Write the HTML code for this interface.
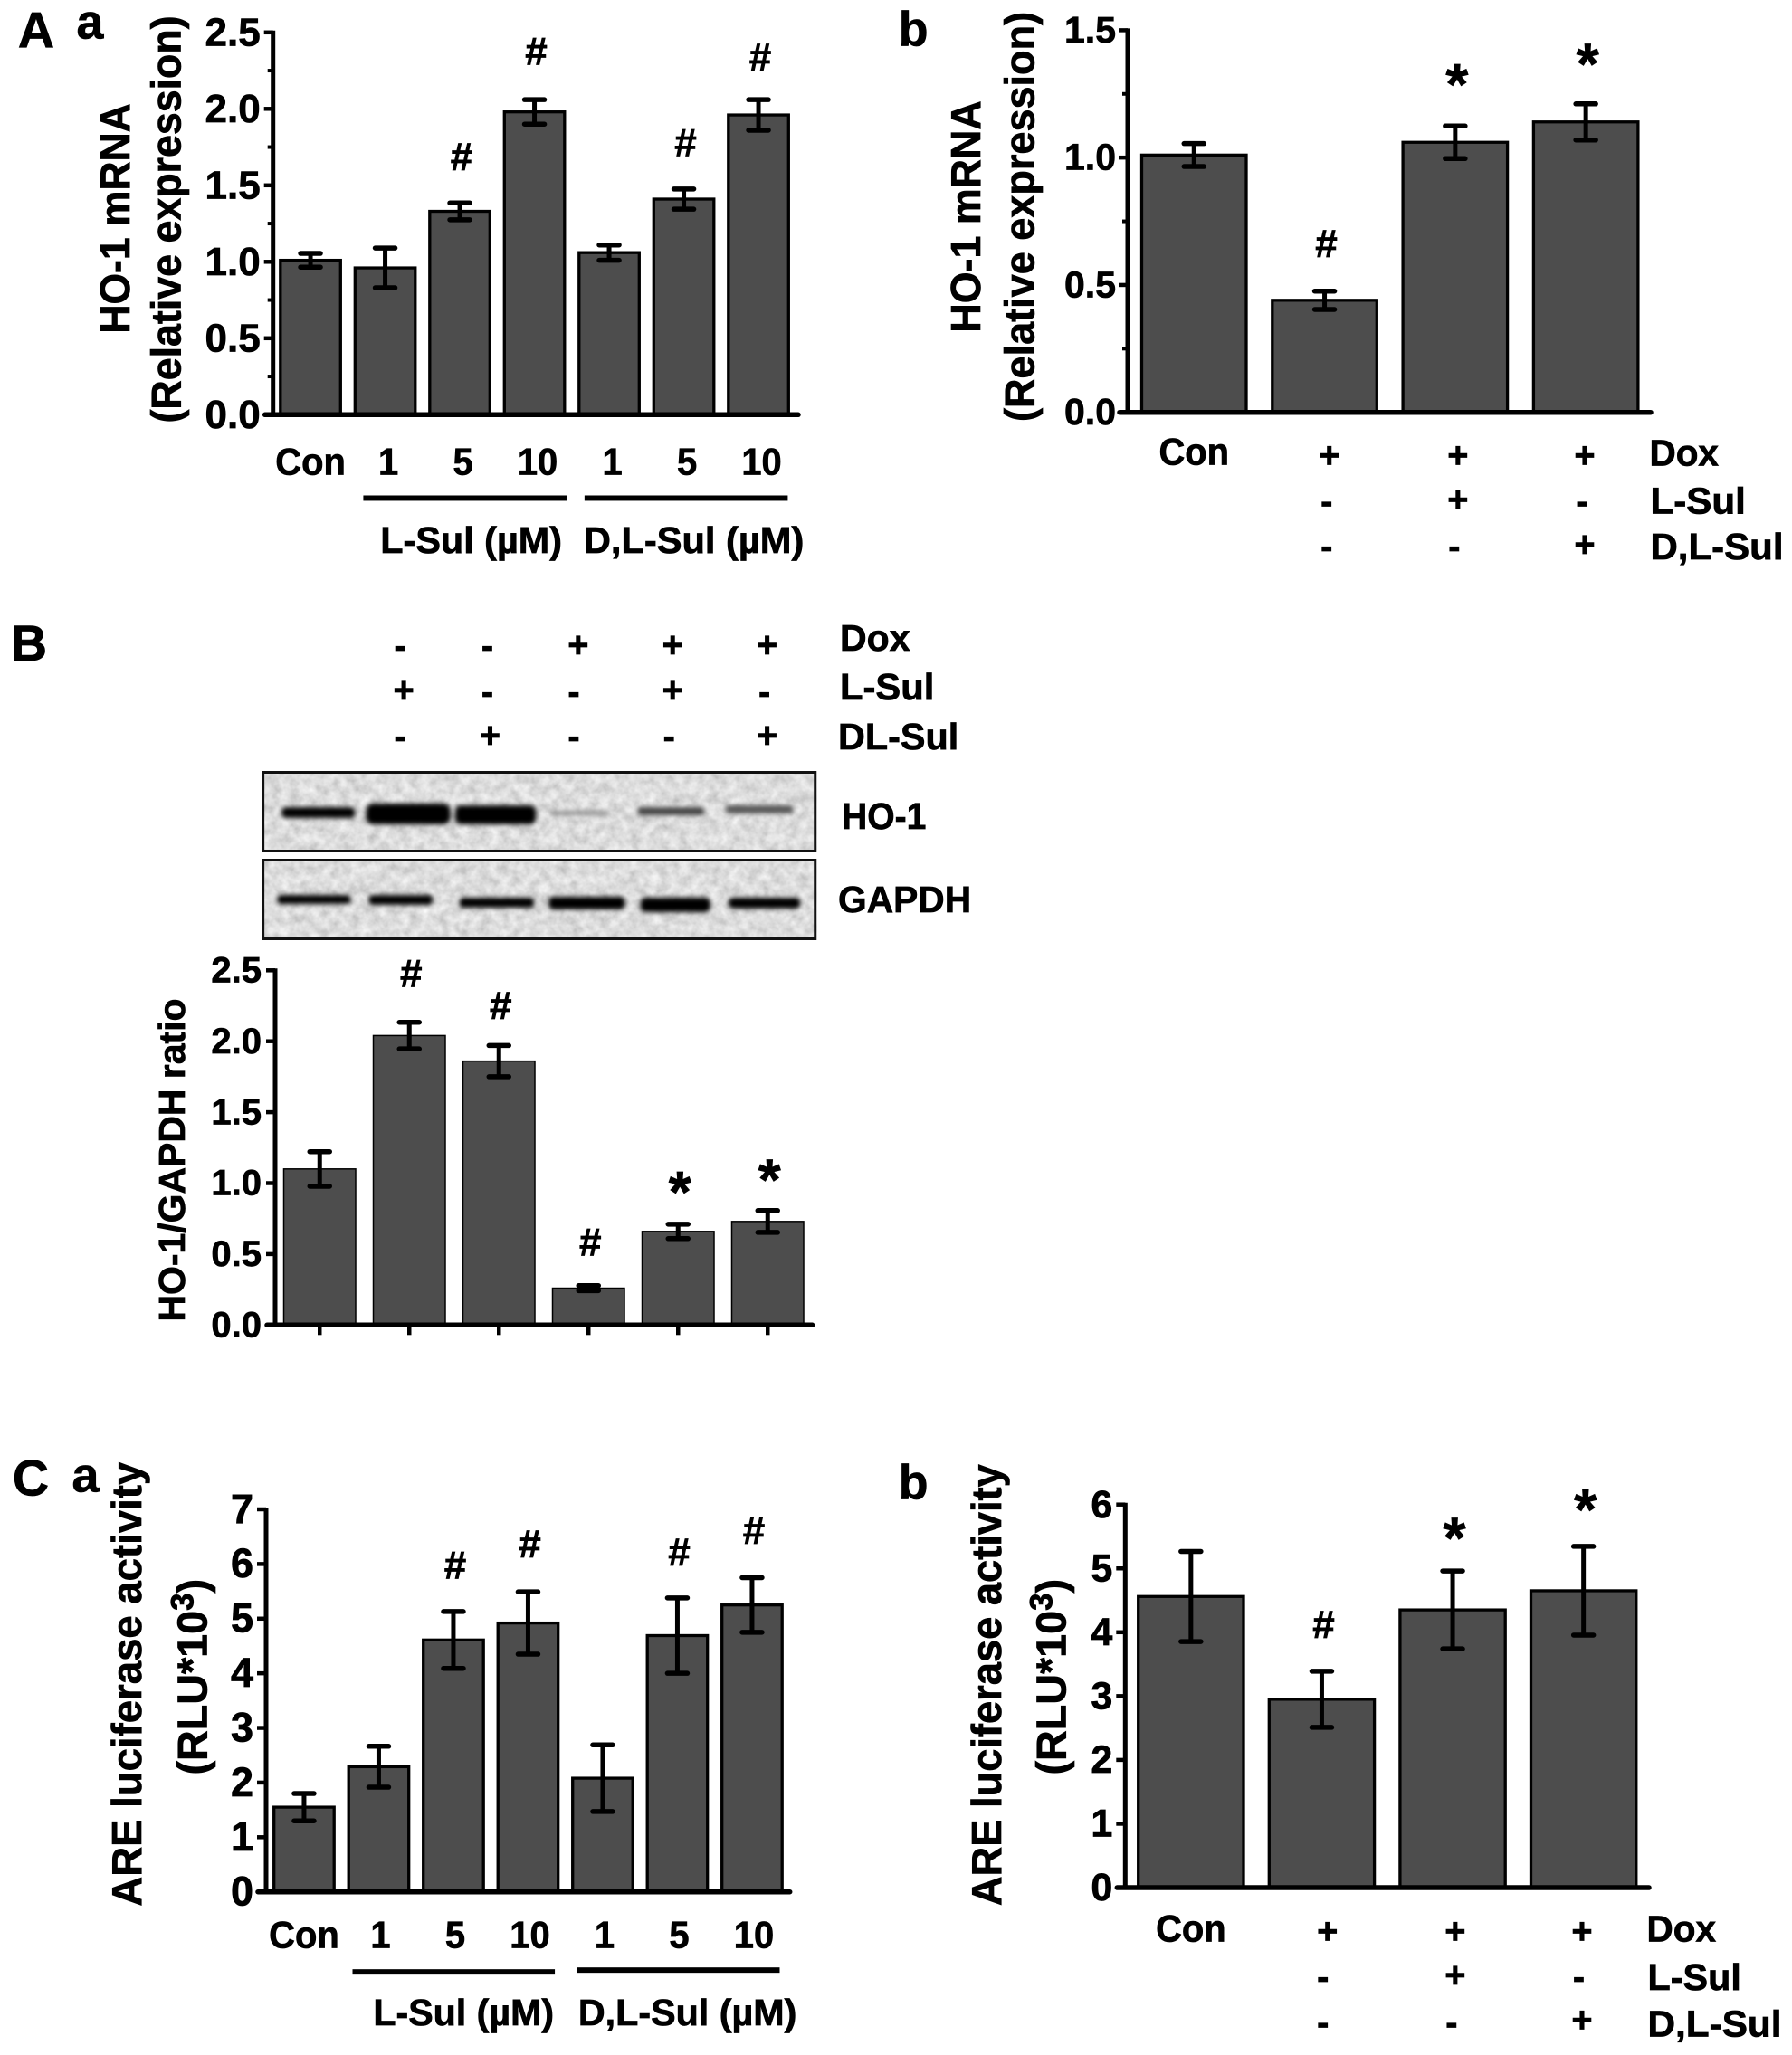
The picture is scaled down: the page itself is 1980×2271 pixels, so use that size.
<!DOCTYPE html>
<html lang="en">
<head>
<meta charset="utf-8">
<title>HO-1 expression and ARE luciferase activity figure</title>
<style>
html,body{margin:0;padding:0;background:#fff;}
svg{display:block;}
text{font-family:"Liberation Sans",sans-serif;font-weight:bold;fill:#000;stroke:#000;stroke-width:0.7px;}
.pm{font-size:40px;text-anchor:middle;}
.row{font-size:41px;}
.panel{font-size:56px;}
.sub{font-size:54px;}
.title{font-size:47px;text-anchor:middle;}
</style>
</head>
<body>
<svg id="figure" xmlns="http://www.w3.org/2000/svg" width="1980" height="2271" viewBox="0 0 1980 2271">
<defs>
<filter id="grain" x="0" y="0" width="100%" height="100%">
<feTurbulence type="fractalNoise" baseFrequency="0.09" numOctaves="3" seed="7" result="n"/>
<feColorMatrix in="n" type="matrix" values="0.5 0 0 0 0.47  0.5 0 0 0 0.47  0.5 0 0 0 0.47  0 0 0 0 1"/>
</filter>
<filter id="soft" x="-10%" y="-80%" width="120%" height="260%"><feGaussianBlur stdDeviation="2.6"/></filter>
</defs>

<g transform="scale(0.99363)">
<text class="panel" x="20" y="53">A</text>
<text class="sub" x="85" y="43">a</text>
<text class="title" transform="translate(144,243) rotate(-90)" textLength="256" lengthAdjust="spacingAndGlyphs">HO-1 mRNA</text>
<text class="title" transform="translate(201,244) rotate(-90)" textLength="453" lengthAdjust="spacingAndGlyphs">(Relative expression)</text>
<rect x="404" y="551" width="226" height="6"/>
<rect x="650" y="551" width="226" height="6"/>
<text class="row" x="423" y="615" textLength="202" lengthAdjust="spacingAndGlyphs">L-Sul (µM)</text>
<text class="row" x="649" y="615" textLength="245" lengthAdjust="spacingAndGlyphs">D,L-Sul (µM)</text>
</g>

<g transform="translate(960 0) scale(0.99363) translate(-960 0)">
<text class="sub" x="993" y="51">b</text>
<text class="title" transform="translate(1084,241) rotate(-90)" textLength="258" lengthAdjust="spacingAndGlyphs">HO-1 mRNA</text>
<text class="title" transform="translate(1143.5,241) rotate(-90)" textLength="456" lengthAdjust="spacingAndGlyphs">(Relative expression)</text>
<text class="pm" x="1472" y="520">+</text>
<text class="pm" x="1615" y="520">+</text>
<text class="pm" x="1756" y="520">+</text>
<text class="row" x="1828" y="518" textLength="77" lengthAdjust="spacingAndGlyphs">Dox</text>
<text class="pm" x="1469" y="571">-</text>
<text class="pm" x="1615" y="569">+</text>
<text class="pm" x="1753" y="571">-</text>
<text class="row" x="1829" y="571" textLength="106" lengthAdjust="spacingAndGlyphs">L-Sul</text>
<text class="pm" x="1469" y="621">-</text>
<text class="pm" x="1611" y="621">-</text>
<text class="pm" x="1756" y="619">+</text>
<text class="row" x="1829" y="622" textLength="148" lengthAdjust="spacingAndGlyphs">D,L-Sul</text>
</g>

<g transform="scale(0.99363 1)">
<text class="panel" x="12" y="730">B</text>
<text class="pm" x="445" y="727">-</text>
<text class="pm" x="542" y="727">-</text>
<text class="pm" x="643" y="726">+</text>
<text class="pm" x="748" y="726">+</text>
<text class="pm" x="853" y="726">+</text>
<text class="row" x="934" y="719" textLength="78" lengthAdjust="spacingAndGlyphs">Dox</text>
<text class="pm" x="449" y="776">+</text>
<text class="pm" x="542" y="778">-</text>
<text class="pm" x="638" y="778">-</text>
<text class="pm" x="748" y="776">+</text>
<text class="pm" x="850" y="778">-</text>
<text class="row" x="934" y="773" textLength="105" lengthAdjust="spacingAndGlyphs">L-Sul</text>
<text class="pm" x="445" y="827">-</text>
<text class="pm" x="545" y="826">+</text>
<text class="pm" x="638" y="827">-</text>
<text class="pm" x="744" y="827">-</text>
<text class="pm" x="853" y="826">+</text>
<text class="row" x="932" y="828" textLength="134" lengthAdjust="spacingAndGlyphs">DL-Sul</text>

<g>
<rect x="291" y="852" width="617" height="90" filter="url(#grain)"/>
<g filter="url(#soft)" fill="#050505">
<rect x="313" y="892" width="82" height="12" rx="5"/>
<rect x="407" y="888" width="94" height="23" rx="8"/>
<rect x="506" y="890" width="90" height="21" rx="7"/>
<rect x="613" y="896" width="64" height="5" rx="2" fill="#8f8f8f"/>
<rect x="709" y="892" width="74" height="9" rx="3" fill="#454545"/>
<rect x="807" y="890" width="75" height="9" rx="3" fill="#555"/>
</g>
<rect x="292.5" y="853.5" width="614" height="87" fill="none" stroke="#111" stroke-width="3"/>
</g>
<text class="row" x="936" y="916" textLength="94" lengthAdjust="spacingAndGlyphs">HO-1</text>

<g>
<rect x="291" y="949" width="617" height="90" filter="url(#grain)"/>
<g filter="url(#soft)" fill="#050505">
<rect x="308" y="989" width="82" height="10" rx="4"/>
<rect x="410" y="989" width="71" height="11" rx="4"/>
<rect x="511" y="992" width="83" height="11" rx="4"/>
<rect x="610" y="991" width="85" height="14" rx="5"/>
<rect x="712" y="992" width="78" height="16" rx="6"/>
<rect x="810" y="992" width="80" height="12" rx="5"/>
</g>
<rect x="292.5" y="950.5" width="614" height="87" fill="none" stroke="#111" stroke-width="3"/>
</g>
<text class="row" x="932" y="1008" textLength="148" lengthAdjust="spacingAndGlyphs">GAPDH</text>
</g>
<text class="title" style="font-size:41px" transform="translate(204,1282) rotate(-90)" textLength="357" lengthAdjust="spacingAndGlyphs">HO-1/GAPDH ratio</text>

<g transform="translate(0 1580) scale(0.99363) translate(0 -1580)">
<text class="panel" x="14" y="1653">C</text>
<text class="sub" x="80" y="1649">a</text>
<text class="title" transform="translate(157,1863) rotate(-90)" textLength="494" lengthAdjust="spacingAndGlyphs">ARE luciferase activity</text>
<text class="title" transform="translate(230,1855) rotate(-90)">(RLU*10<tspan dy="-15" font-size="35">3</tspan><tspan dy="15">)</tspan></text>
<rect x="392" y="2180" width="225" height="6"/>
<rect x="642" y="2178" width="225" height="6"/>
<text class="row" x="415" y="2242" textLength="201" lengthAdjust="spacingAndGlyphs">L-Sul (µM)</text>
<text class="row" x="643" y="2242" textLength="243" lengthAdjust="spacingAndGlyphs">D,L-Sul (µM)</text>
</g>

<g transform="translate(960 1580) scale(0.99363) translate(-960 -1580)">
<text class="sub" x="993" y="1657">b</text>
<text class="title" transform="translate(1107,1864) rotate(-90)" textLength="491" lengthAdjust="spacingAndGlyphs">ARE luciferase activity</text>
<text class="title" transform="translate(1179,1855) rotate(-90)">(RLU*10<tspan dy="-15" font-size="35">3</tspan><tspan dy="15">)</tspan></text>
<text class="pm" x="1470" y="2151">+</text>
<text class="pm" x="1612" y="2151">+</text>
<text class="pm" x="1753" y="2151">+</text>
<text class="row" x="1825" y="2149" textLength="77" lengthAdjust="spacingAndGlyphs">Dox</text>
<text class="pm" x="1465" y="2202">-</text>
<text class="pm" x="1612" y="2200">+</text>
<text class="pm" x="1749.5" y="2202">-</text>
<text class="row" x="1826" y="2203" textLength="104" lengthAdjust="spacingAndGlyphs">L-Sul</text>
<text class="pm" x="1465" y="2253">-</text>
<text class="pm" x="1608" y="2253">-</text>
<text class="pm" x="1753" y="2250">+</text>
<text class="row" x="1826" y="2255" textLength="149" lengthAdjust="spacingAndGlyphs">D,L-Sul</text>
</g>

<g id="charts"></g>
</svg>

<script>
/* ---------- Panel A a ---------- */
const aaCategories = ['Con', '1', '5', '10', '1', '5', '10'];
const aaValues = [1.01, 0.96, 1.33, 1.98, 1.06, 1.41, 1.96];
const aaErrors = [0.045, 0.13, 0.055, 0.08, 0.05, 0.066, 0.10];
const aaTickValues = [0, 0.5, 1, 1.5, 2, 2.5];
const aaTickLabels = ['0.0', '0.5', '1.0', '1.5', '2.0', '2.5'];
const aaMinorTicks = [0.25, 0.75, 1.25, 1.75, 2.25];
const aaMarks = ['', '', '#', '#', '', '#', '#'];
const aaMarkLevels = [0, 0, 1.6, 2.29, 0, 1.69, 2.25];

/* ---------- Panel A b ---------- */
const abCategories = ['Con', '', '', ''];
const abValues = [1.01, 0.44, 1.06, 1.14];
const abErrors = [0.045, 0.036, 0.064, 0.071];
const abTickValues = [0, 0.5, 1, 1.5];
const abTickLabels = ['0.0', '0.5', '1.0', '1.5'];
const abMinorTicks = [0.25, 0.75, 1.25];
const abMarks = ['', '#', '*', '*'];
const abMarkLevels = [0, 0.61, 1.21, 1.29];

/* ---------- Panel B ---------- */
const bCategories = ['', '', '', '', '', ''];
const bValues = [1.10, 2.04, 1.86, 0.26, 0.66, 0.73];
const bErrors = [0.122, 0.094, 0.11, 0.018, 0.051, 0.077];
const bTickValues = [0, 0.5, 1, 1.5, 2, 2.5];
const bTickLabels = ['0.0', '0.5', '1.0', '1.5', '2.0', '2.5'];
const bMinorTicks = [];
const bMarks = ['', '#', '#', '#', '*', '*'];
const bMarkLevels = [0, 2.385, 2.156, 0.49, 0.80, 0.885];

/* ---------- Panel C a ---------- */
const caCategories = ['Con', '1', '5', '10', '1', '5', '10'];
const caValues = [1.55, 2.29, 4.61, 4.92, 2.08, 4.69, 5.25];
const caErrors = [0.25, 0.375, 0.52, 0.57, 0.61, 0.69, 0.5];
const caTickValues = [0, 1, 2, 3, 4, 5, 6, 7];
const caTickLabels = ['0', '1', '2', '3', '4', '5', '6', '7'];
const caMinorTicks = [];
const caMarks = ['', '', '#', '#', '', '#', '#'];
const caMarkLevels = [0, 0, 5.73, 6.12, 0, 5.97, 6.37];

/* ---------- Panel C b ---------- */
const cbCategories = ['Con', '', '', ''];
const cbValues = [4.56, 2.95, 4.35, 4.65];
const cbErrors = [0.706, 0.44, 0.61, 0.695];
const cbTickValues = [0, 1, 2, 3, 4, 5, 6];
const cbTickLabels = ['0', '1', '2', '3', '4', '5', '6'];
const cbMinorTicks = [];
const cbMarks = ['', '#', '*', '*'];
const cbMarkLevels = [0, 3.91, 5.17, 5.61];

const SVG_NS = 'http://www.w3.org/2000/svg';

function shape(tag, parent, props) {
  const el = document.createElementNS(SVG_NS, tag);
  for (const k in props) el.setAttribute(k, props[k]);
  parent.appendChild(el);
  return el;
}

function drawChart(data, frame) {
  const root = document.getElementById('charts');
  const y = v => frame.bottom - (v / frame.maxValue) * (frame.bottom - frame.top);
  const barLeft = i => frame.firstBar + i * frame.pitch;
  const barMid = i => barLeft(i) + frame.barWidth / 2;

  const g = shape('g', root, {});
  
  

  data.values.forEach((v, i) => {
    const bar = shape('rect', g, {
      x: barLeft(i), y: y(v), width: frame.barWidth, height: frame.bottom - y(v),
      fill: '#4d4d4d', stroke: '#000', 'stroke-width': frame.barStroke
    });
    
    

    const err = data.errors[i];
    const stem = shape('line', g, {
      x1: barMid(i), x2: barMid(i), y1: y(v + err), y2: y(v - err),
      stroke: '#000', 'stroke-width': 5
    });
    
    

    const capTop = shape('line', g, {
      x1: barMid(i) - 11, x2: barMid(i) + 11, y1: y(v + err), y2: y(v + err),
      stroke: '#000', 'stroke-width': 5.5, 'stroke-linecap': 'round'
    });
    
    

    const capLow = shape('line', g, {
      x1: barMid(i) - 11, x2: barMid(i) + 11, y1: y(v - err), y2: y(v - err),
      stroke: '#000', 'stroke-width': 5.5, 'stroke-linecap': 'round'
    });
    
    

    if (data.marks[i]) {
      const isStar = data.marks[i] === '*';
      const mark = shape('text', g, {
        x: barMid(i) + 2, y: y(data.levels[i]), 'text-anchor': 'middle',
        'font-size': isStar ? 64 : 44
      });
      mark.textContent = data.marks[i];
      
      
    }

    if (data.categories[i]) {
      const cat = shape('text', g, {
        x: barMid(i) + (i === 0 ? 0 : frame.catShift), y: frame.catY,
        'text-anchor': 'middle', 'font-size': 42
      });
      cat.textContent = data.categories[i];
      cat.setAttribute('textLength', cat.getComputedTextLength() * 0.95);
      cat.setAttribute('lengthAdjust', 'spacingAndGlyphs');
      
      
    }

    if (frame.xTicks) {
      const xt = shape('line', g, {
        x1: barMid(i), x2: barMid(i), y1: frame.bottom, y2: frame.bottom + 11,
        stroke: '#000', 'stroke-width': 4.5
      });
      
      
    }
  });

  const yAxis = shape('line', g, {
    x1: frame.axisX, x2: frame.axisX, y1: frame.top - 2, y2: frame.bottom,
    stroke: '#000', 'stroke-width': 5
  });
  
  

  const xAxis = shape('line', g, {
    x1: frame.axisX - 9, x2: frame.axisEnd, y1: frame.bottom, y2: frame.bottom,
    stroke: '#000', 'stroke-width': 5.5, 'stroke-linecap': 'round'
  });
  
  

  data.ticks.forEach((t, i) => {
    const tick = shape('line', g, {
      x1: frame.axisX - 10, x2: frame.axisX, y1: y(t), y2: y(t),
      stroke: '#000', 'stroke-width': 4.5
    });
    
    

    const lab = shape('text', g, {
      x: frame.axisX - frame.tickGap, y: y(t) + frame.tickSize * 0.33, 'text-anchor': 'end',
      'font-size': frame.tickSize
    });
    lab.textContent = data.tickLabels[i];
    
    
  });

  data.minor.forEach(t => {
    const mt = shape('line', g, {
      x1: frame.axisX - 6, x2: frame.axisX, y1: y(t), y2: y(t),
      stroke: '#000', 'stroke-width': 4
    });
    
    
  });
}

drawChart(
  { categories: aaCategories, values: aaValues, errors: aaErrors, ticks: aaTickValues, tickLabels: aaTickLabels, minor: aaMinorTicks, marks: aaMarks, levels: aaMarkLevels },
  { name: 'chart-aa-ho1-mrna', axisX: 301.7, axisEnd: 882, top: 35.8, bottom: 458.3, maxValue: 2.5, firstBar: 309.8, pitch: 82.5, barWidth: 66.5, barStroke: 3.3, catY: 524.5, catShift: 3.5, tickSize: 44, tickGap: 14 }
);
drawChart(
  { categories: abCategories, values: abValues, errors: abErrors, ticks: abTickValues, tickLabels: abTickLabels, minor: abMinorTicks, marks: abMarks, levels: abMarkLevels },
  { name: 'chart-ab-ho1-mrna', axisX: 1246, axisEnd: 1824, top: 33.4, bottom: 455.7, maxValue: 1.5, firstBar: 1261.5, pitch: 144.3, barWidth: 115.5, barStroke: 3.3, catY: 513.3, catShift: 0, tickSize: 41, tickGap: 13 }
);
drawChart(
  { categories: bCategories, values: bValues, errors: bErrors, ticks: bTickValues, tickLabels: bTickLabels, minor: bMinorTicks, marks: bMarks, levels: bMarkLevels },
  { name: 'chart-b-ho1-gapdh-ratio', axisX: 304, axisEnd: 897.6, top: 1072.3, bottom: 1464.3, maxValue: 2.5, firstBar: 313.5, pitch: 99, barWidth: 79.5, barStroke: 1.5, catY: 0, catShift: 0, tickSize: 40, tickGap: 15, xTicks: true }
);
drawChart(
  { categories: caCategories, values: caValues, errors: caErrors, ticks: caTickValues, tickLabels: caTickLabels, minor: caMinorTicks, marks: caMarks, levels: caMarkLevels },
  { name: 'chart-ca-are-luciferase', axisX: 294, axisEnd: 872.7, top: 1668, bottom: 2090.7, maxValue: 7, firstBar: 302.7, pitch: 82.5, barWidth: 66.5, barStroke: 3.3, catY: 2152.3, catShift: 2, tickSize: 45, tickGap: 14 }
);
drawChart(
  { categories: cbCategories, values: cbValues, errors: cbErrors, ticks: cbTickValues, tickLabels: cbTickLabels, minor: cbMinorTicks, marks: cbMarks, levels: cbMarkLevels },
  { name: 'chart-cb-are-luciferase', axisX: 1243.3, axisEnd: 1822, top: 1662.7, bottom: 2086, maxValue: 6, firstBar: 1257.7, pitch: 144.6, barWidth: 116.3, barStroke: 3.3, catY: 2145.7, catShift: 0, tickSize: 43, tickGap: 14 }
);
</script>
</body>
</html>
